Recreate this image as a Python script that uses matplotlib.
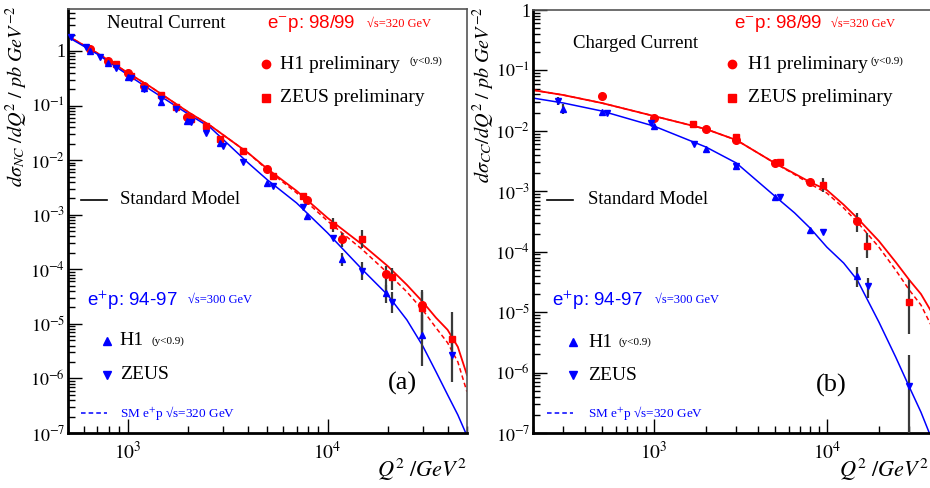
import numpy as np
import matplotlib
matplotlib.use("Agg")
import matplotlib.pyplot as plt
from matplotlib.ticker import LogLocator, NullFormatter

plt.rcParams['font.family'] = ['Liberation Serif', 'DejaVu Serif']
plt.rcParams['mathtext.fontset'] = 'stix'

RED = '#ff0000'
BLUE = '#0000ff'
BAR = '#3a3a3a'

# ---------------- Neutral current (a) ----------------
nc_h1m_q = [646, 794, 1000, 1202, 1972, 4955, 7852, 11885, 19724, 29854]
nc_h1m_v = [1.09, 0.656, 0.395, 0.229, 0.0618, 0.0069, 0.00187, 0.00036, 8.2e-5, 2.23e-5]

nc_zem_q = [871, 1035, 1462, 1738, 2065, 2455, 2884, 3758, 5309, 7499, 10593, 14962, 21135, 29854, 42170]
nc_zem_v = [0.578, 0.348, 0.156, 0.0942, 0.0568, 0.0423, 0.0244, 0.0147, 0.00514, 0.00221,
            0.00065, 0.00036, 7.2e-5, 1.96e-5, 5.3e-6]

nc_h1p_q = [646, 794, 1000, 1202, 1462, 1972, 2884, 4955, 7852, 11885, 19724, 29854]
nc_h1p_v = [1.0, 0.603, 0.334, 0.210, 0.116, 0.0522, 0.0207, 0.00382, 0.000951, 0.000155, 3.7e-5, 6.3e-6]

nc_zep_q = [519, 617, 724, 871, 1035, 1202, 1462, 1738, 2065, 2455, 2990, 3758, 5309, 7499,
            10593, 14962, 21135, 42170]
nc_zep_v = [1.80, 1.18, 0.776, 0.489, 0.320, 0.205, 0.132, 0.0867, 0.050, 0.0315, 0.0182,
            0.00927, 0.00337, 0.00139, 0.000376, 9.3e-5, 2.53e-5, 2.7e-6]

# error bars drawn only where visible
nc_bar_q = [10593, 11885, 11885, 14962, 14962, 19724, 21135, 19724, 21135, 29854, 29854, 29854, 42170, 42170]
nc_bar_lo = [4.84e-4, 2.57e-4, 1.15e-4, 2.47e-4, 6.4e-5, 4.2e-5, 4.2e-5, 2.43e-5, 1.59e-5,
             7.8e-6, 6.3e-6, 1.7e-6, 2.19e-6, 8.7e-7]
nc_bar_hi = [8.73e-4, 4.64e-4, 2.0e-4, 5.27e-4, 1.37e-4, 1.15e-4, 1.06e-4, 5.2e-5, 3.86e-5,
             4.2e-5, 3.86e-5, 1.46e-5, 1.66e-5, 7.8e-6]

# Standard Model curves
nc_sm_q = [500, 700, 1000, 1300, 2000, 2600, 4000, 5000, 7000, 10000, 15000, 20000,
           25000, 30000, 35000, 40000, 45000, 50000]
nc_sm_em = [1.88, 0.919, 0.395, 0.219, 0.0764, 0.0423, 0.01355, 0.0069, 0.00273, 0.000874,
            0.00028, 0.000115, 5.18e-5, 2.53e-5, 1.29e-5, 7.76e-6, 3.79e-6, 1.16e-6]
nc_sm_ep320 = [1.88, 0.919, 0.395, 0.219, 0.0764, 0.0423, 0.01355, 0.00662, 0.00251, 0.000769,
               0.000227, 8.59e-5, 3.85e-5, 1.8e-5, 8.45e-6, 4.49e-6, 2.01e-6, 5.69e-7]
nc_sm_ep = [1.80, 0.881, 0.363, 0.193, 0.0702, 0.0389, 0.00889, 0.00434, 0.00164, 0.000465,
            9.75e-5, 3.4e-5, 1.18e-5, 3.95e-6, 1.32e-6, 5.0e-7, 2.15e-7, 8.9e-8]

# ---------------- Charged current (b) ----------------
cc_h1m_q = [500, 1000, 2000, 3000, 5000, 8000, 15000]
cc_h1m_v = [0.0377, 0.0163, 0.0107, 0.00704, 0.00293, 0.00142, 0.000321]

cc_zem_q = [1680, 3000, 5350, 9500, 17000, 30000]
cc_zem_v = [0.0130, 0.00789, 0.00304, 0.00127, 0.000124, 1.47e-5]

cc_h1p_q = [300, 500, 1000, 2000, 3000, 5000, 8000, 15000]
cc_h1p_v = [0.0230, 0.0205, 0.0120, 0.0050, 0.00261, 0.0008, 0.000228, 3.94e-5]

cc_zep_q = [280, 535, 961, 1700, 3000, 5350, 9500, 17260, 30000]
cc_zep_v = [0.0311, 0.0197, 0.0135, 0.00604, 0.00261, 0.0008, 0.000211, 2.69e-5, 5.96e-7]

cc_bar_q = [280, 300, 9500, 15000, 17000, 15000, 17260, 30000, 30000]
cc_bar_lo = [0.0265, 0.0190, 9.7e-4, 2.11e-4, 7.8e-5, 2.6e-5, 1.7e-5, 4.3e-6, 1e-7]
cc_bar_hi = [0.0370, 0.0280, 1.66e-3, 4.36e-4, 2.03e-4, 5.56e-5, 3.66e-5, 3.39e-5, 1.94e-6]

cc_sm_q = [200, 300, 500, 1000, 2000, 3000, 5000, 6500, 8000, 10000, 12500, 15000, 20000, 25000,
           30000, 35000, 40000]
cc_sm_em = [0.0473, 0.0391, 0.0289, 0.0176, 0.0107, 0.00704, 0.00293, 0.00196, 0.00142, 0.00105,
            0.00060, 0.00036, 0.00015, 6.73e-5, 3.39e-5, 1.99e-5, 1.04e-5]
cc_sm_ep320 = [0.0473, 0.0391, 0.0289, 0.0176, 0.0107, 0.00704, 0.00293, 0.00190, 0.00132, 0.000934,
               0.000530, 0.000309, 0.000119, 4.96e-5, 2.31e-5, 1.31e-5, 6.1e-6]
cc_sm_ep = [0.0349, 0.0289, 0.0213, 0.0120, 0.0054, 0.00293, 0.000833, 0.000440, 0.000246, 0.000119,
            6.5e-5, 3.39e-5, 6.83e-6, 1.8e-6, 5.73e-7, 2.21e-7, 8.5e-8]

ytick_vals = [1e-7, 1e-6, 1e-5, 1e-4, 1e-3, 1e-2, 1e-1, 1]
ytick_labels = ['$10^{-7}$', '$10^{-6}$', '$10^{-5}$', '$10^{-4}$', '$10^{-3}$',
                '$10^{-2}$', '$10^{-1}$', '1']
xtick_vals = [1e3, 1e4]
xtick_labels = ['$10^{3}$', '$10^{4}$']


fig = plt.figure(figsize=(9.3, 4.88), dpi=100)
ax1 = fig.add_axes([0.0731, 0.1127, 0.429, 0.869])
ax2 = fig.add_axes([0.5731, 0.1127, 0.4280, 0.8668])


def style_axes(ax, xlim, ylim):
    ax.set_xscale('log')
    ax.set_yscale('log')
    ax.set_xlim(*xlim)
    ax.set_ylim(*ylim)
    ax.set_yticks(ytick_vals, ytick_labels)
    ax.set_xticks(xtick_vals, xtick_labels)
    ax.yaxis.set_minor_locator(LogLocator(base=10, subs=np.arange(2, 10), numticks=20))
    ax.xaxis.set_minor_locator(LogLocator(base=10, subs=np.arange(2, 10), numticks=20))
    ax.yaxis.set_minor_formatter(NullFormatter())
    ax.xaxis.set_minor_formatter(NullFormatter())
    ax.tick_params(which='both', direction='in', top=False, right=False, width=1)
    ax.tick_params(axis='x', labelsize=14, pad=6)
    ax.tick_params(axis='y', labelsize=13, pad=2)
    ax.tick_params(which='major', length=10)
    ax.tick_params(which='minor', length=5)
    for s in ['left', 'bottom']:
        ax.spines[s].set_linewidth(2)
        ax.spines[s].set_color('black')
    for s in ['top', 'right']:
        ax.spines[s].set_linewidth(1.2)
        ax.spines[s].set_color('#555555')


def draw_panel(ax, sm_q, sm_em, sm_ep320, sm_ep, bar_q, bar_lo, bar_hi,
               h1m, zem, h1p, zep):
    ax.plot(sm_q, sm_em, color=RED, lw=1.3, zorder=2)
    ax.plot(sm_q, sm_ep320, color=RED, lw=1.1, ls=(0, (3, 2)), zorder=2)
    ax.plot(sm_q, sm_ep, color=BLUE, lw=1.1, zorder=2)
    ax.vlines(bar_q, bar_lo, bar_hi, color=BAR, lw=1.6, zorder=3)
    ax.plot(h1m[0], h1m[1], 'o', color=RED, ms=5.5, ls='none', zorder=4)
    ax.plot(zem[0], zem[1], 's', color=RED, ms=5, ls='none', zorder=4)
    ax.plot(h1p[0], h1p[1], '^', color=BLUE, ms=5, ls='none', zorder=4)
    ax.plot(zep[0], zep[1], 'v', color=BLUE, ms=5, ls='none', zorder=4)


def draw_legend(ax, title, title_xy, ex):
    T = ax.transAxes
    ax.text(title_xy[0], title_xy[1], title, transform=T, fontsize=13.5, va='center')
    ax.text(ex['em'][0], ex['em'][1], 'e$^{-}$p: 98/99', transform=T, fontsize=13.5,
            color=RED, va='center', family='Liberation Sans')
    ax.text(ex['em_s'], ex['em'][1], '√s=320 GeV', transform=T, fontsize=9,
            color=RED, va='center')
    mx, tx = ex['mk1'], ex['tx1']
    ax.plot([mx], [ex['y_h1m']], 'o', color=RED, ms=6, transform=T, clip_on=False)
    ax.text(tx, ex['y_h1m'], 'H1 preliminary', transform=T, fontsize=14, va='center')
    ax.text(ex['ycut1'], ex['y_h1m'] + 0.007, '(y<0.9)', transform=T, fontsize=8, va='center')
    ax.plot([mx], [ex['y_zem']], 's', color=RED, ms=5.5, transform=T, clip_on=False)
    ax.text(tx, ex['y_zem'], 'ZEUS preliminary', transform=T, fontsize=14, va='center')

    l0, l1, tx2 = ex['line']
    ax.plot([l0, l1], [ex['y_sm'], ex['y_sm']], color='black', lw=1.2, transform=T)
    ax.text(tx2, ex['y_sm'], 'Standard Model', transform=T, fontsize=13.5, va='center')

    ax.text(ex['ep'][0], ex['ep'][1], 'e$^{+}$p: 94-97', transform=T, fontsize=13.5,
            color=BLUE, va='center', family='Liberation Sans')
    ax.text(ex['ep_s'], ex['ep'][1], '√s=300 GeV', transform=T, fontsize=9,
            color=BLUE, va='center')
    ax.plot([l1], [ex['y_h1p']], '^', color=BLUE, ms=5.5, transform=T, clip_on=False)
    ax.text(tx2, ex['y_h1p'], 'H1', transform=T, fontsize=14, va='center')
    ax.text(ex['ycut2'], ex['y_h1p'], '(y<0.9)', transform=T, fontsize=8, va='center')
    ax.plot([l1], [ex['y_zep']], 'v', color=BLUE, ms=5.5, transform=T, clip_on=False)
    ax.text(tx2, ex['y_zep'], 'ZEUS', transform=T, fontsize=14, va='center')
    ax.plot([l0, l1], [ex['y_dash'], ex['y_dash']], color=BLUE, lw=1.1, ls=(0, (3, 2)),
            transform=T)
    ax.text(tx2, ex['y_dash'], 'SM e$^{+}$p √s=320 GeV', transform=T, fontsize=9.5,
            color=BLUE, va='center')
    ax.text(ex['tag'][0], ex['tag'][1], ex['tag'][2], transform=T, fontsize=19, va='center')


style_axes(ax1, (500, 50000), (1e-7, 5.9))
style_axes(ax2, (200, 40000), (1e-7, 1))

draw_panel(ax1, nc_sm_q, nc_sm_em, nc_sm_ep320, nc_sm_ep, nc_bar_q, nc_bar_lo, nc_bar_hi,
           (nc_h1m_q, nc_h1m_v), (nc_zem_q, nc_zem_v), (nc_h1p_q, nc_h1p_v), (nc_zep_q, nc_zep_v))
draw_panel(ax2, cc_sm_q, cc_sm_em, cc_sm_ep320, cc_sm_ep, cc_bar_q, cc_bar_lo, cc_bar_hi,
           (cc_h1m_q, cc_h1m_v), (cc_zem_q, cc_zem_v), (cc_h1p_q, cc_h1p_v), (cc_zep_q, cc_zep_v))

draw_legend(ax1, 'Neutral Current', (0.098, 0.965),
            dict(em=(0.499, 0.965), em_s=0.749, mk1=0.496, tx1=0.531, ycut1=0.857,
                 y_h1m=0.870, y_zem=0.790, line=(0.033, 0.098, 0.130), y_sm=0.5495,
                 ep=(0.048, 0.314), ep_s=0.301, ycut2=0.21, y_h1p=0.217, y_zep=0.137,
                 y_dash=0.047, tag=(0.802, 0.118, '(a)')))
draw_legend(ax2, 'Charged Current', (0.101, 0.920),
            dict(em=(0.504, 0.967), em_s=0.748, mk1=0.501, tx1=0.539, ycut1=0.849,
                 y_h1m=0.872, y_zem=0.792, line=(0.035, 0.101, 0.139), y_sm=0.551,
                 ep=(0.048, 0.314), ep_s=0.307, ycut2=0.214, y_h1p=0.215, y_zep=0.137,
                 y_dash=0.047, tag=(0.710, 0.113, '(b)')))

fig.text(17 / 930, 1 - 6 / 488, r'$d\sigma_{NC}\ /dQ^2\ /\ pb\ GeV^{-2}$', rotation=90,
         ha='center', va='top', fontsize=14.5)
fig.text(484 / 930, 1 - 6 / 488, r'$d\sigma_{CC}/dQ^2\ /\ pb\ GeV^{-2}$', rotation=90,
         ha='center', va='top', fontsize=14.5)
fig.text(467 / 930, 1 - 470 / 488, r'$Q^2\ /GeV^2$', ha='right', va='center', fontsize=16)
fig.text(0.999, 1 - 470 / 488, r'$Q^2\ /GeV^2$', ha='right', va='center', fontsize=16)

fig.savefig('out.png', dpi=100)
